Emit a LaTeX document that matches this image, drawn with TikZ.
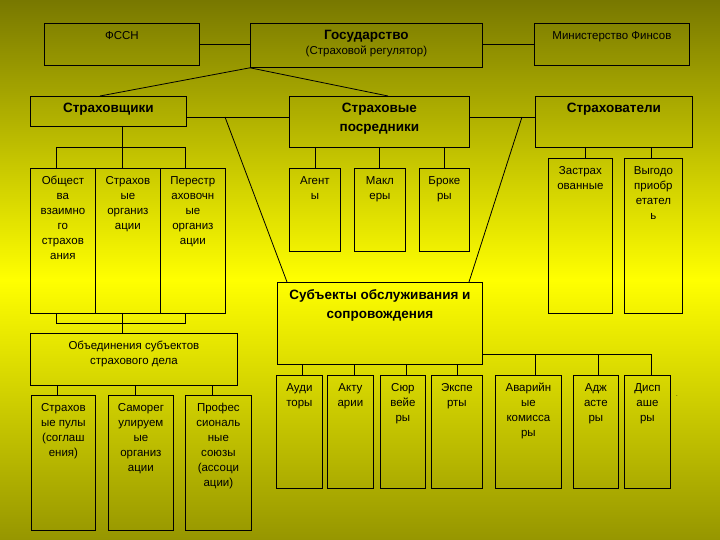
\documentclass[tikz,border=0pt]{standalone}
\usepackage{fontspec}
\setmainfont{Liberation Sans}
\definecolor{oltop}{RGB}{120,120,0}
\definecolor{olbot}{RGB}{150,150,0}
\definecolor{ylw}{RGB}{255,255,0}
\begin{document}
\begin{tikzpicture}[x=1pt,y=-1pt,line width=0.8pt,
  bx/.style={draw,anchor=north west,inner sep=0pt},
  txt/.style={anchor=north,align=center,font=\fontsize{11.5}{15}\selectfont,inner sep=4pt,yshift=-4pt},
  btxt/.style={anchor=north,align=center,font=\fontsize{13.5}{19}\selectfont\bfseries,inner sep=5pt,yshift=-2pt}]
\shade[top color=oltop,bottom color=ylw] (0,0) rectangle (720,280);
\shade[top color=ylw,bottom color=olbot] (0,280) rectangle (720,540);
\useasboundingbox (0,0) rectangle (720,540);
\newcommand\bx[7]{\node[bx,minimum width={#4-#2},minimum height={#5-#3}] (#1) at (#2,#3) {};
  \node[#6] at (#1.north) {#7};}
\bx{fssn}{44}{23}{199}{65}{txt}{ФССН}
\bx{gos}{250}{23}{482}{67}{btxt}{Государство\\[-4pt]{\normalfont\fontsize{11.5}{12}\selectfont(Страховой регулятор)}}
\bx{min}{534}{23}{689}{65}{txt}{Министерство Финсов}
\bx{strah}{30}{96}{186}{126}{btxt}{Страховщики}
\bx{posr}{289}{96}{469}{147}{btxt}{Страховые\\посредники}
\bx{stv}{535}{96}{692}{147}{btxt}{Страхователи}
\bx{s1}{30}{168}{95}{313}{txt}{Общест\\ва\\взаимно\\го\\страхов\\ания}
\bx{s2}{95}{168}{160}{313}{txt}{Страхов\\ые\\организ\\ации}
\bx{s3}{160}{168}{225}{313}{txt}{Перестр\\аховочн\\ые\\организ\\ации}
\bx{p1}{289}{168}{340}{251}{txt}{Агент\\ы}
\bx{p2}{354}{168}{405}{251}{txt}{Макл\\еры}
\bx{p3}{419}{168}{469}{251}{txt}{Броке\\ры}
\bx{v1}{548}{158}{612}{313}{txt}{Застрах\\ованные}
\bx{v2}{624}{158}{682}{313}{txt}{Выгодо\\приобр\\етател\\ь}
\bx{sub}{277}{282}{482}{364}{btxt}{Субъекты обслуживания и\\сопровождения}
\bx{obj}{30}{333}{237}{385}{txt}{Объединения субъектов\\страхового дела}
\bx{o1}{31}{395}{95}{530}{txt}{Страхов\\ые пулы\\(соглаш\\ения)}
\bx{o2}{108}{395}{173}{530}{txt}{Саморег\\улируем\\ые\\организ\\ации}
\bx{o3}{185}{395}{251}{530}{txt}{Профес\\сиональ\\ные\\союзы\\(ассоци\\ации)}
\bx{c1}{276}{375}{322}{488}{txt}{Ауди\\торы}
\bx{c2}{327}{375}{373}{488}{txt}{Акту\\арии}
\bx{c3}{380}{375}{425}{488}{txt}{Сюр\\вейе\\ры}
\bx{c4}{431}{375}{482}{488}{txt}{Экспе\\рты}
\bx{c5}{495}{375}{561}{488}{txt}{Аварийн\\ые\\комисса\\ры}
\bx{c6}{573}{375}{618}{488}{txt}{Адж\\асте\\ры}
\bx{c7}{624}{375}{670}{488}{txt}{Дисп\\аше\\ры}
\node[font=\fontsize{6}{6}\selectfont,inner sep=0pt] (dot) at (677,396) {.};
% top row
\draw (fssn.east|-0,44) -- (gos.west|-0,44);
\draw (gos.east|-0,44) -- (min.west|-0,44);
\draw (gos.south west) -- (100,96);
\draw (gos.south west) -- (388,96);
\draw (strah.east|-0,117) -- (posr.west|-0,117);
\draw (posr.east|-0,117) -- (stv.west|-0,117);
\coordinate (l1) at (225,117); \coordinate (l2) at (522,117);
\draw (l1) -- (287,282);
\draw (l2) -- (469,282);
% strahovshiki tree
\draw (122,126) -- (122,147) (56,168) -- (56,147) -- (185,147) -- (185,168) (122,147) -- (122,168);
\draw (56,313) -- (56,323) -- (185,323) -- (185,313) (122,313) -- (122,333);
\draw (57,385) -- (57,395) (135,385) -- (135,395) (212,385) -- (212,395);
% posredniki
\draw (315,147) -- (315,168) (379,147) -- (379,168) (444,147) -- (444,168);
\draw (585,147) -- (585,158) (651,147) -- (651,158);
% subjects
\draw (302,364) -- (302,375) (354,364) -- (354,375) (406,364) -- (406,375) (457,364) -- (457,375);
\draw (482,354) -- (651,354) -- (651,375) (535,354) -- (535,375) (598,354) -- (598,375);
\end{tikzpicture}
\end{document}
